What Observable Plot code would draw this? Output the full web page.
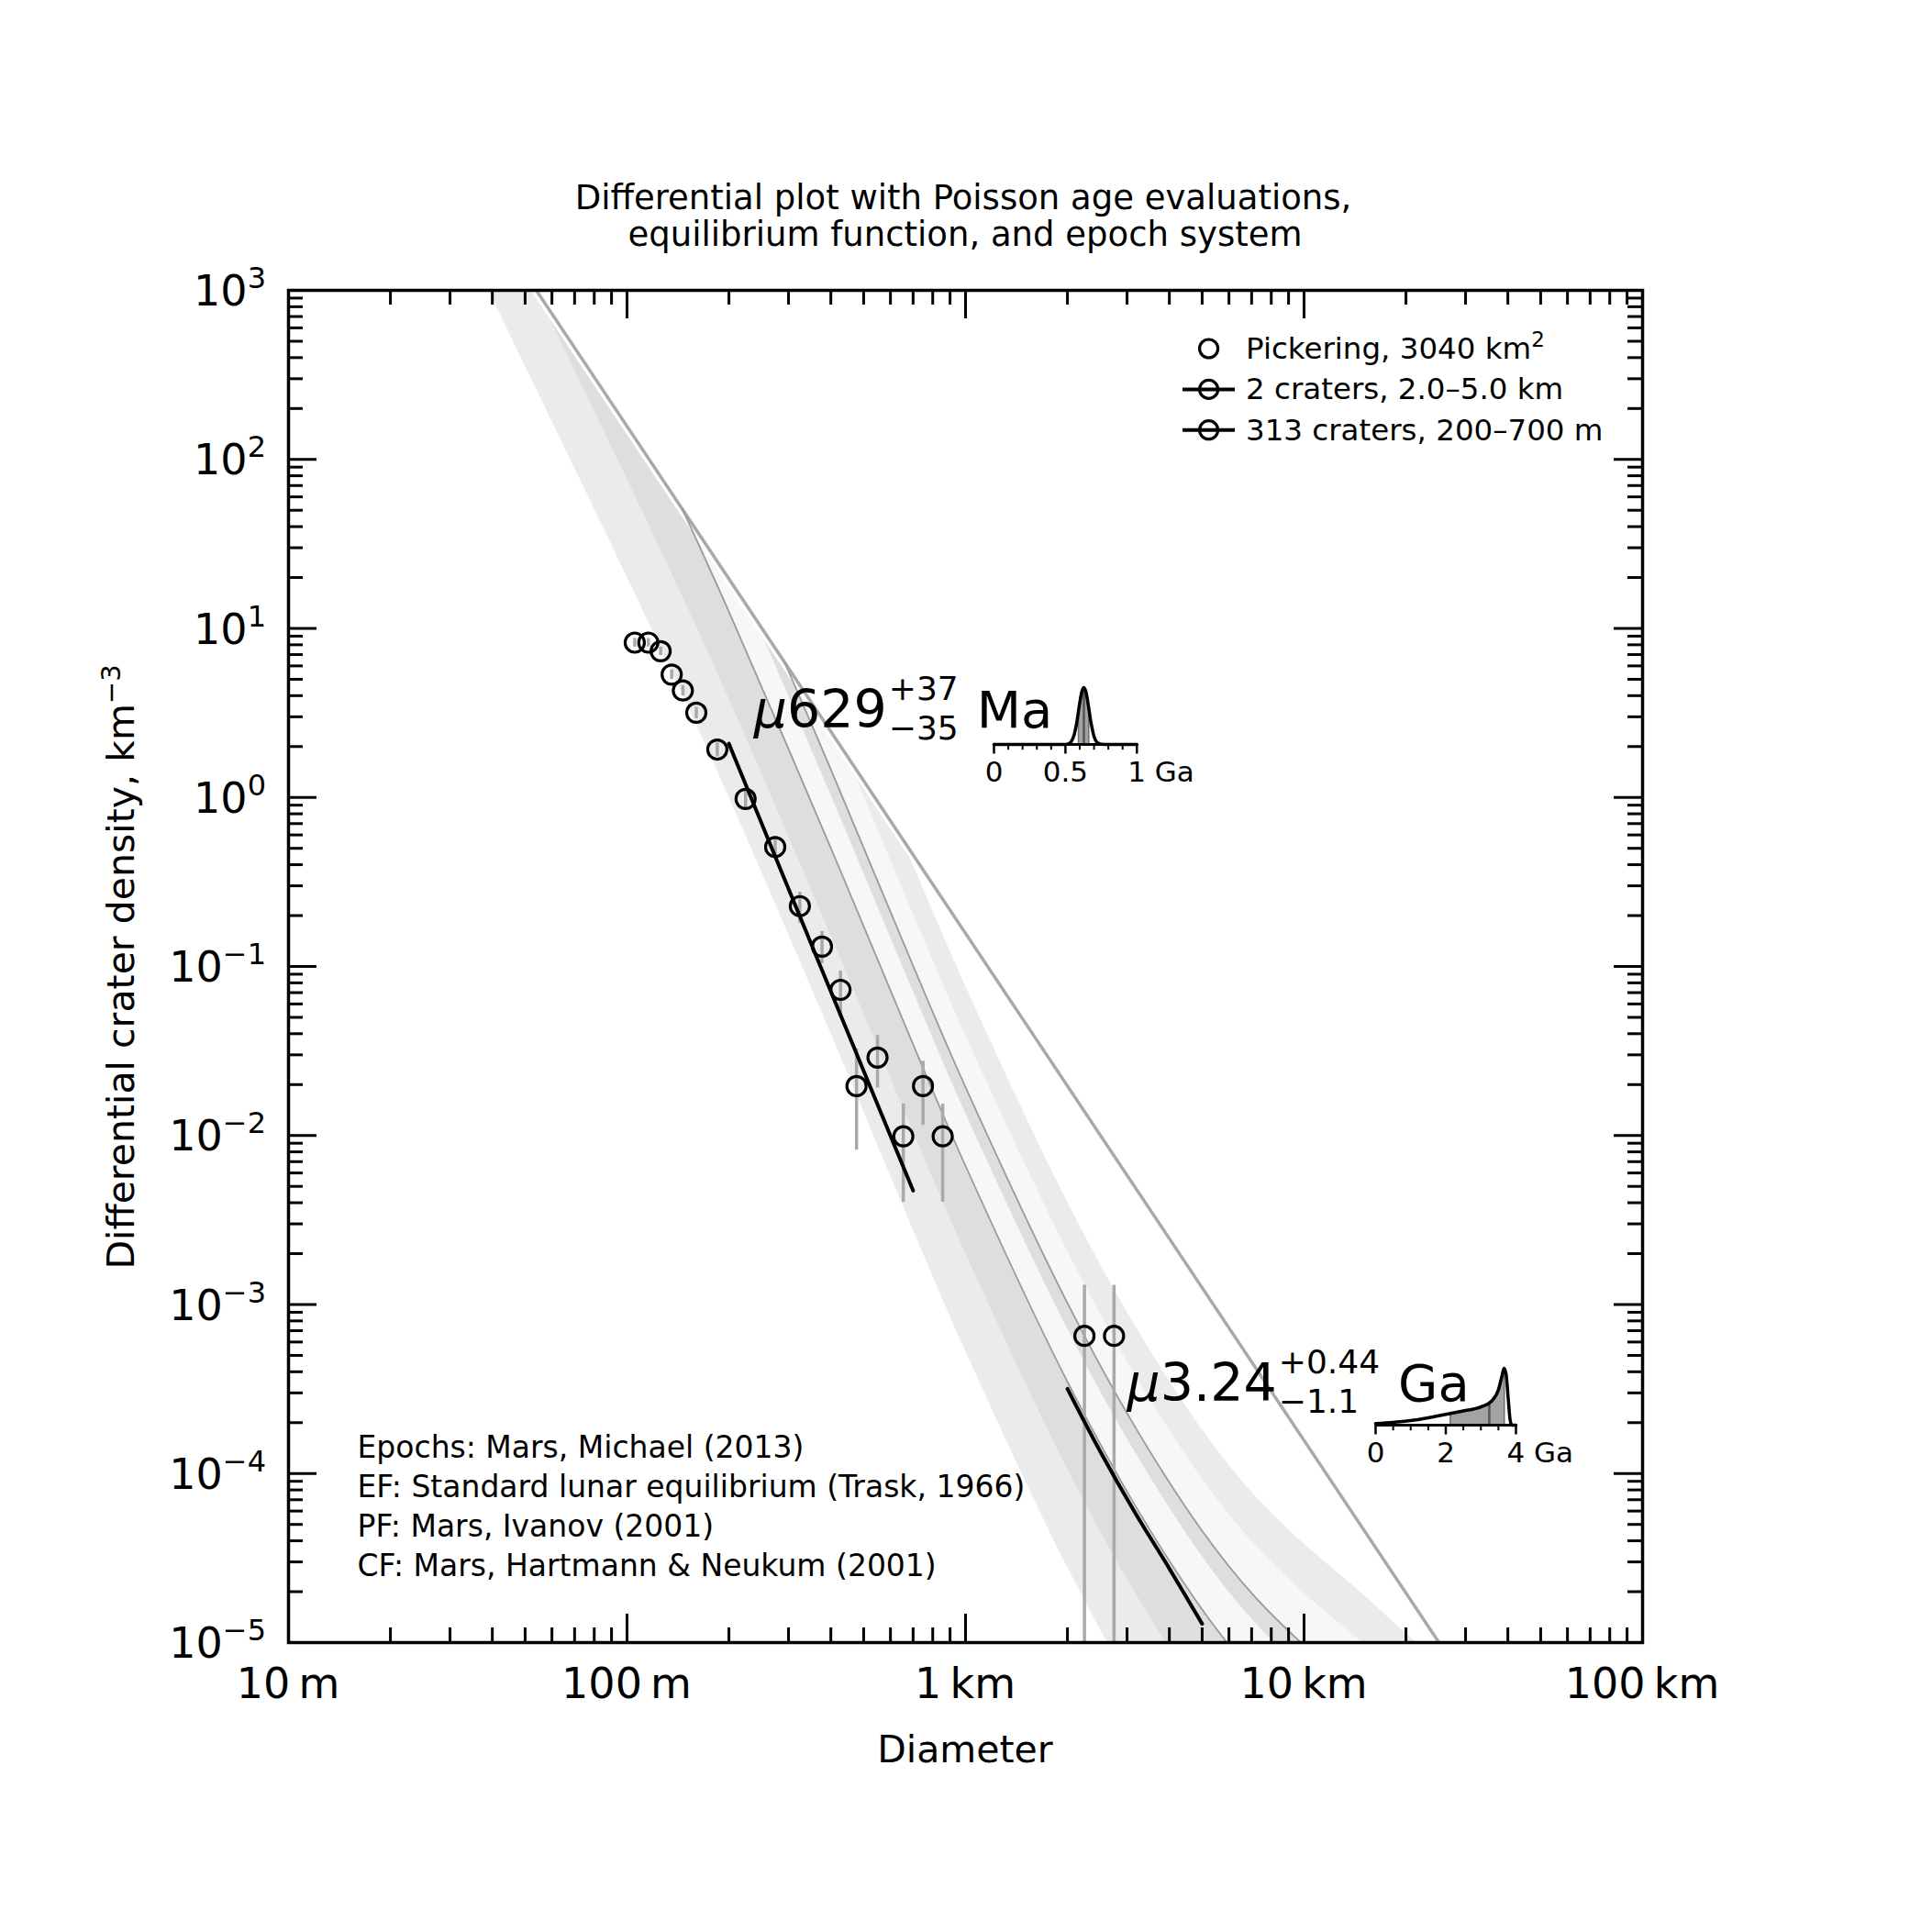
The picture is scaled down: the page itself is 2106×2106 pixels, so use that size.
<!DOCTYPE html>
<html><head><meta charset="utf-8">
<script src="https://cdn.jsdelivr.net/npm/d3@7"></script>
<script src="https://cdn.jsdelivr.net/npm/@observablehq/plot@0.6"></script>
<style>
html,body{margin:0;padding:0;background:#fff;}
#wrap{position:relative;width:2106px;height:2106px;overflow:hidden;}
#wrap svg{position:absolute;}
</style></head><body><div id="wrap"></div>
<script>
const FONT = "DejaVu Sans";

// ---- crater data (Pickering, 3040 km^2) : diameter in km, differential density km^-3
const craterD = [0.1054,0.1156,0.1257,0.1355,0.1462,0.1602,0.1848,0.2240,0.2740,0.3240,0.3767,0.4272,0.4764,0.5495,0.6550,0.7488,0.8560,2.245,2.746];
const craterN = [8.24,8.24,7.33,5.33,4.29,3.17,1.92,0.98,0.509,0.2275,0.131,0.0727,0.0196,0.0289,0.00988,0.0196,0.00988,6.52e-4,6.52e-4];
const errLo   = [7.75,7.77,6.90,4.98,3.99,2.92,1.74,0.86,0.433,0.180,0.104,0.0503,0.0082,0.0191,0.00403,0.01148,0.00403,1e-8,1e-8];
const errHi   = [8.73,8.71,7.76,5.68,4.59,3.42,2.10,1.10,0.585,0.275,0.161,0.0938,0.0325,0.0391,0.01535,0.0275,0.01535,1.30e-3,1.30e-3];

// ---- fitted isochron segments
const fitYoungD = [0.2,0.35,0.7];
const fitYoungN = [2.08,0.136,4.72e-3];
const fitOldD = [2.0,2.5,3.16,4.0,5.0];
const fitOldN = [3.17e-4,1.35e-4,5.92e-5,2.74e-5,1.29e-5];

// ---- equilibrium function (straight line, read at extended ends)
const efD = [0.01,100];
const efN = [1.57e5,1.57e-7];

// ---- epoch boundary isochrons (sampled diameters, km)
const isoD = [0.005012,0.02512,0.05012,0.1,0.1413,0.1995,0.3981,0.6998,1,2,3.162,5,7.079,10,14.13,19.95,39.81];
const epochB1 = [4.6e6,6.17e3,354,20.2,4.67,1.02,4.12e-2,2.78e-3,5.31e-4,2.80e-5,5.24e-6,1.26e-6,5.25e-7,2.65e-7,1.48e-7,7.87e-8,2.34e-8];
const epochB2 = [1.74e7,2.34e4,1.35e3,76.8,17.7,3.89,0.157,1.06e-2,2.02e-3,1.07e-4,1.99e-5,4.79e-6,2.00e-6,1.01e-6,5.61e-7,2.99e-7,8.91e-8];
const epochB3 = [5.69e7,7.67e4,4.41e3,251,58.1,12.7,0.513,3.46e-2,6.60e-3,3.49e-4,6.53e-5,1.57e-5,6.53e-6,3.30e-6,1.84e-6,9.80e-7,2.92e-7];
const epochB4 = [1.17e8,1.58e5,9.10e3,519,120,26.3,1.06,7.16e-2,1.36e-2,7.20e-4,1.35e-4,3.24e-5,1.35e-5,6.81e-6,3.79e-6,2.02e-6,6.03e-7];
const epochB5 = [1.66e8,2.24e5,1.29e4,734,170,37.1,1.50,0.101,1.93e-2,1.02e-3,1.90e-4,4.58e-5,1.91e-5,9.62e-6,5.36e-6,2.86e-6,8.51e-7];
const epochB6 = [3.39e8,4.57e5,2.62e4,1.50e3,346,75.8,3.05,0.206,3.93e-2,2.08e-3,3.89e-4,9.34e-5,3.89e-5,1.96e-5,1.09e-5,5.84e-6,1.74e-6];
const epochB7 = [6.61e8,8.91e5,5.12e4,2.92e3,675,148,5.96,0.402,7.67e-2,4.05e-3,7.58e-4,1.82e-4,7.59e-5,3.83e-5,2.13e-5,1.14e-5,3.39e-6];

// thin isochron lines (start at the equilibrium line)
const thinAD = [0.1459,0.1995,0.3981,0.6998,1,2,3.162,5,7.079,10];
const thinAN = [50.5,12.7,0.513,3.46e-2,6.60e-3,3.49e-4,6.53e-5,1.57e-5,6.53e-6,3.30e-6];
const thinBD = [0.2928,0.3981,0.6998,1,2,3.162,5,7.079,10,14.13];
const thinBN = [6.24,1.50,0.101,1.93e-2,1.02e-3,1.90e-4,4.58e-5,1.91e-5,9.62e-6,5.36e-6];

// ---- axes
const xMajor = [0.01,0.1,1,10,100];
const xTickLabels = ["10\u2009m","100\u2009m","1\u2009km","10\u2009km","100\u2009km"];
const yMajor = [1e-5,1e-4,1e-3,1e-2,1e-1,1,10,100,1000];
const yTickExp = ["\u22125","\u22124","\u22123","\u22122","\u22121","0","1","2","3"];
const minorMult = [2,3,4,5,6,7,8,9];
const xMinor = [0.01,0.1,1,10].flatMap(d => minorMult.map(m => m*d));
const yMinor = [1e-5,1e-4,1e-3,1e-2,1e-1,1,10,100].flatMap(d => minorMult.map(m => m*d));

// ---- texts
const titleLines = ["Differential plot with Poisson age evaluations,","equilibrium function, and epoch system"];
const xLabel = "Diameter";
const yLabel = "Differential crater density, km";
const legendLabels = ["Pickering, 3040 km","2 craters, 2.0\u20135.0 km","313 craters, 200\u2013700 m"];
const notes = ["Epochs: Mars, Michael (2013)","EF: Standard lunar equilibrium (Trask, 1966)","PF: Mars, Ivanov (2001)","CF: Mars, Hartmann & Neukum (2001)"];

// ---- age PDFs
const pdfYoungT = [0,0.49,0.52,0.54,0.56,0.58,0.60,0.615,0.629,0.645,0.66,0.68,0.70,0.72,0.75,0.8,1.0];
const pdfYoungP = [0,0,0.01,0.047,0.16,0.40,0.73,0.93,1.0,0.91,0.69,0.37,0.14,0.04,0.005,0,0];
const shadeYoungT = [0.594,0.60,0.615,0.629,0.645,0.66,0.666];
const shadeYoungP = [0.62,0.73,0.93,1.0,0.91,0.69,0.58];
const pdfOldT = [0,0.5,1,1.5,2,2.5,3,3.3,3.5,3.6,3.66,3.72,3.78,3.83,3.88,4.0];
const pdfOldP = [0.03,0.05,0.08,0.13,0.19,0.25,0.32,0.42,0.62,0.86,1.0,0.89,0.46,0.11,0.0,0.0];
const shadeOldT = [2.14,2.5,3.0,3.3,3.5,3.6,3.66,3.68];
const shadeOldP = [0.20,0.25,0.32,0.42,0.62,0.86,1.0,0.97];

// ---------------------------------------------------------------
const rowsOf = (ds, ns) => ds.map((d,i) => ({D:d, N:ns[i]}));
const craters = craterD.map((d,i) => ({D:d, N:craterN[i], lo:errLo[i], hi:errHi[i]}));

const W = 2106, H = 2106, mL = 314, mR = 316, mT = 316, mB = 316;
const pW = W - mL - mR, pH = H - mT - mB;
const majLen = 31, minLen = 16, tickW = 3;

const bands = [[epochB7,"#ebebeb"],[epochB6,"#f7f7f7"],[epochB5,"#dedede"],[epochB4,"#f7f7f7"],[epochB3,"#dedede"],[epochB2,"#ebebeb"],[epochB1,"#ffffff"]];

const chart = Plot.plot({
  width: W, height: H, marginLeft: mL, marginRight: mR, marginTop: mT, marginBottom: mB,
  style: {background: "white"},
  x: {type: "log", domain: [0.01, 100], axis: null},
  y: {type: "log", domain: [1e-5, 1e3], axis: null},
  marks: [
    ...bands.map(([arr, c]) => Plot.areaY(rowsOf(isoD, arr), {x: "D", y1: "N", y2: 1e-9, fill: c, curve: "catmull-rom", clip: true})),
    Plot.areaY(rowsOf(efD, efN), {x: "D", y1: "N", y2: 1e9, fill: "white", clip: true}),
    Plot.line(rowsOf(efD, efN), {x: "D", y: "N", stroke: "white", strokeWidth: 10, clip: true}),
    Plot.line(rowsOf(efD, efN), {x: "D", y: "N", stroke: "#a9a9a9", strokeWidth: 3.5, clip: true}),
    Plot.line(rowsOf(thinAD, thinAN), {x: "D", y: "N", stroke: "#9a9a9a", strokeWidth: 1.8, curve: "catmull-rom", clip: true}),
    Plot.line(rowsOf(thinBD, thinBN), {x: "D", y: "N", stroke: "#9a9a9a", strokeWidth: 1.8, curve: "catmull-rom", clip: true}),
    Plot.ruleX(craters, {x: "D", y1: "lo", y2: "hi", stroke: "#a9a9a9", strokeWidth: 3.5, clip: true}),
    Plot.line(rowsOf(fitYoungD, fitYoungN), {x: "D", y: "N", stroke: "black", strokeWidth: 4, curve: "catmull-rom"}),
    Plot.line(rowsOf(fitOldD, fitOldN), {x: "D", y: "N", stroke: "black", strokeWidth: 4, curve: "catmull-rom"}),
    Plot.dot(craters, {x: "D", y: "N", r: 10.5, stroke: "black", strokeWidth: 3.2, fill: "none"}),
    // ticks, inward on all four sides
    Plot.tickX(xMajor, {x: d => d, insetTop: pH - majLen, stroke: "black", strokeWidth: tickW}),
    Plot.tickX(xMinor, {x: d => d, insetTop: pH - minLen, stroke: "black", strokeWidth: tickW}),
    Plot.tickX(xMajor, {x: d => d, insetBottom: pH - majLen, stroke: "black", strokeWidth: tickW}),
    Plot.tickX(xMinor, {x: d => d, insetBottom: pH - minLen, stroke: "black", strokeWidth: tickW}),
    Plot.tickY(yMajor, {y: d => d, insetRight: pW - majLen, stroke: "black", strokeWidth: tickW}),
    Plot.tickY(yMinor, {y: d => d, insetRight: pW - minLen, stroke: "black", strokeWidth: tickW}),
    Plot.tickY(yMajor, {y: d => d, insetLeft: pW - majLen, stroke: "black", strokeWidth: tickW}),
    Plot.tickY(yMinor, {y: d => d, insetLeft: pW - minLen, stroke: "black", strokeWidth: tickW}),
    Plot.frame({stroke: "black", strokeWidth: 3.5})
  ]
});
chart.style.left = "0px"; chart.style.top = "0px";
const wrap = document.getElementById("wrap");
wrap.appendChild(chart);

const svg = d3.select(chart);
const xs = chart.scale("x"), ys = chart.scale("y");
function txt(x, y, s, size, anchor = "start") {
  return svg.append("text").attr("x", x).attr("y", y).attr("font-family", FONT)
    .attr("font-size", size).attr("text-anchor", anchor).attr("fill", "black").text(s);
}
function rich(x, y, size, anchor = "start") {
  return svg.append("text").attr("x", x).attr("y", y).attr("font-family", FONT)
    .attr("font-size", size).attr("text-anchor", anchor).attr("fill", "black");
}

// title
txt(1050, 228, titleLines[0], 37, "middle");
txt(1052, 268, titleLines[1], 37, "middle");

// x tick labels
xMajor.forEach((v, i) => txt(xs.apply(v), 1851, xTickLabels[i], 46, "middle"));
// y tick labels
yMajor.forEach((v, i) => {
  const t = rich(290, ys.apply(v) + 17, 46, "end");
  t.append("tspan").text("10");
  t.append("tspan").attr("dy", -19).attr("font-size", 32).text(yTickExp[i]);
});

// axis labels
txt(1052, 1921, xLabel, 41, "middle");
{
  const t = svg.append("text").attr("transform", "translate(146,1054) rotate(-90)")
    .attr("font-family", FONT).attr("font-size", 41).attr("text-anchor", "middle").attr("fill", "black");
  t.append("tspan").text(yLabel);
  t.append("tspan").attr("dy", -15).attr("font-size", 29).text("\u22123");
}

// legend
{
  const cx = 1317.6, ys3 = [380, 424.4, 468.7];
  ys3.forEach((yy, i) => {
    if (i > 0) svg.append("line").attr("x1", 1289).attr("x2", 1346).attr("y1", yy).attr("y2", yy)
      .attr("stroke", "black").attr("stroke-width", 4);
    svg.append("circle").attr("cx", cx).attr("cy", yy).attr("r", 10).attr("fill", "none")
      .attr("stroke", "black").attr("stroke-width", 3.2);
    const t = rich(1358, yy + 11, 32.5, "start");
    t.append("tspan").text(legendLabels[i]);
    if (i === 0) t.append("tspan").attr("dy", -13).attr("font-size", 23).text("2");
  });
}

// notes
notes.forEach((s, i) => txt(389.5, 1589 + i * 43, s, 33));

// age labels
function ageLabel(D, N, main, sup, sub, unit) {
  const px = xs.apply(D), py = ys.apply(N);
  const t1 = rich(px, py, 57, "start");
  t1.append("tspan").attr("font-style", "italic").text("\u03bc");
  t1.append("tspan").text(main);
  const w = t1.node().getComputedTextLength();
  const sx = px + w + 2;
  const a = txt(sx, py - 30, sup, 36);
  const b = txt(sx, py + 13, sub, 36);
  const sw = Math.max(a.node().getComputedTextLength(), b.node().getComputedTextLength());
  txt(sx + sw + 20, py, unit, 56);
}
ageLabel(0.2376, 2.59, "629", "+37", "\u221235", "Ma");
ageLabel(3.01, 2.68e-4, "3.24", "+0.44", "\u22121.1", "Ga");

// ---- inset PDFs
function makeInset(tArr, pArr, sT, sP, med, medP, dmax, majors, minors, labs, unitLab, axisX0, axisY, pw) {
  const ml = 20, mr = 90, mt = 10, peakH = 62, areaH = peakH * 1.2, mb = 50;
  const rows = tArr.map((t, i) => ({t, p: pArr[i]}));
  const shade = sT.map((t, i) => ({t, p: sP[i]}));
  const ins = Plot.plot({
    width: ml + pw + mr, height: mt + areaH + mb, marginLeft: ml, marginRight: mr, marginTop: mt, marginBottom: mb,
    style: {background: "none", overflow: "visible"},
    x: {domain: [0, dmax], axis: null}, y: {domain: [-0.2, 1], axis: null},
    marks: [
      Plot.areaY(shade, {x: "t", y1: 0, y2: "p", fill: "#a3a3a3", stroke: "#6e6e6e", strokeWidth: 1.5, curve: "monotone-x"}),
      Plot.ruleX([med], {x: d => d, y1: 0, y2: medP, stroke: "#555", strokeWidth: 2.5}),
      Plot.ruleY([0], {x1: 0, x2: dmax, stroke: "black", strokeWidth: 3}),
      Plot.ruleX(majors, {x: d => d, y1: -0.17, y2: 0, stroke: "black", strokeWidth: 2.5}),
      Plot.ruleX(minors, {x: d => d, y1: -0.1, y2: 0, stroke: "black", strokeWidth: 2}),
      Plot.line(rows, {x: "t", y: "p", stroke: "black", strokeWidth: 3.5, curve: "monotone-x"}),
      Plot.text(labs, {x: "v", y: -0.2, text: "s", fontSize: 31, lineAnchor: "top", dy: 6, fontFamily: FONT, fill: "black"}),
      Plot.text(unitLab, {x: "v", y: -0.2, text: "s", fontSize: 31, lineAnchor: "top", dy: 6, dx: -10, textAnchor: "start", fontFamily: FONT, fill: "black"})
    ]
  });
  ins.style.left = (axisX0 - ml) + "px";
  ins.style.top = (axisY - mt - peakH) + "px";
  wrap.appendChild(ins);
}
makeInset(pdfYoungT, pdfYoungP, shadeYoungT, shadeYoungP, 0.629, 1.0, 1,
  [0, 0.5, 1], [0.1,0.2,0.3,0.4,0.6,0.7,0.8,0.9],
  [{v: 0, s: "0"}, {v: 0.5, s: "0.5"}], [{v: 1, s: "1 Ga"}], 1082.5, 811, 155.8);
makeInset(pdfOldT, pdfOldP, shadeOldT, shadeOldP, 3.24, 0.40, 4,
  [0, 2, 4], [0.5,1,1.5,2.5,3,3.5],
  [{v: 0, s: "0"}, {v: 2, s: "2"}], [{v: 4, s: "4 Ga"}], 1499, 1553, 153);
</script></body></html>
